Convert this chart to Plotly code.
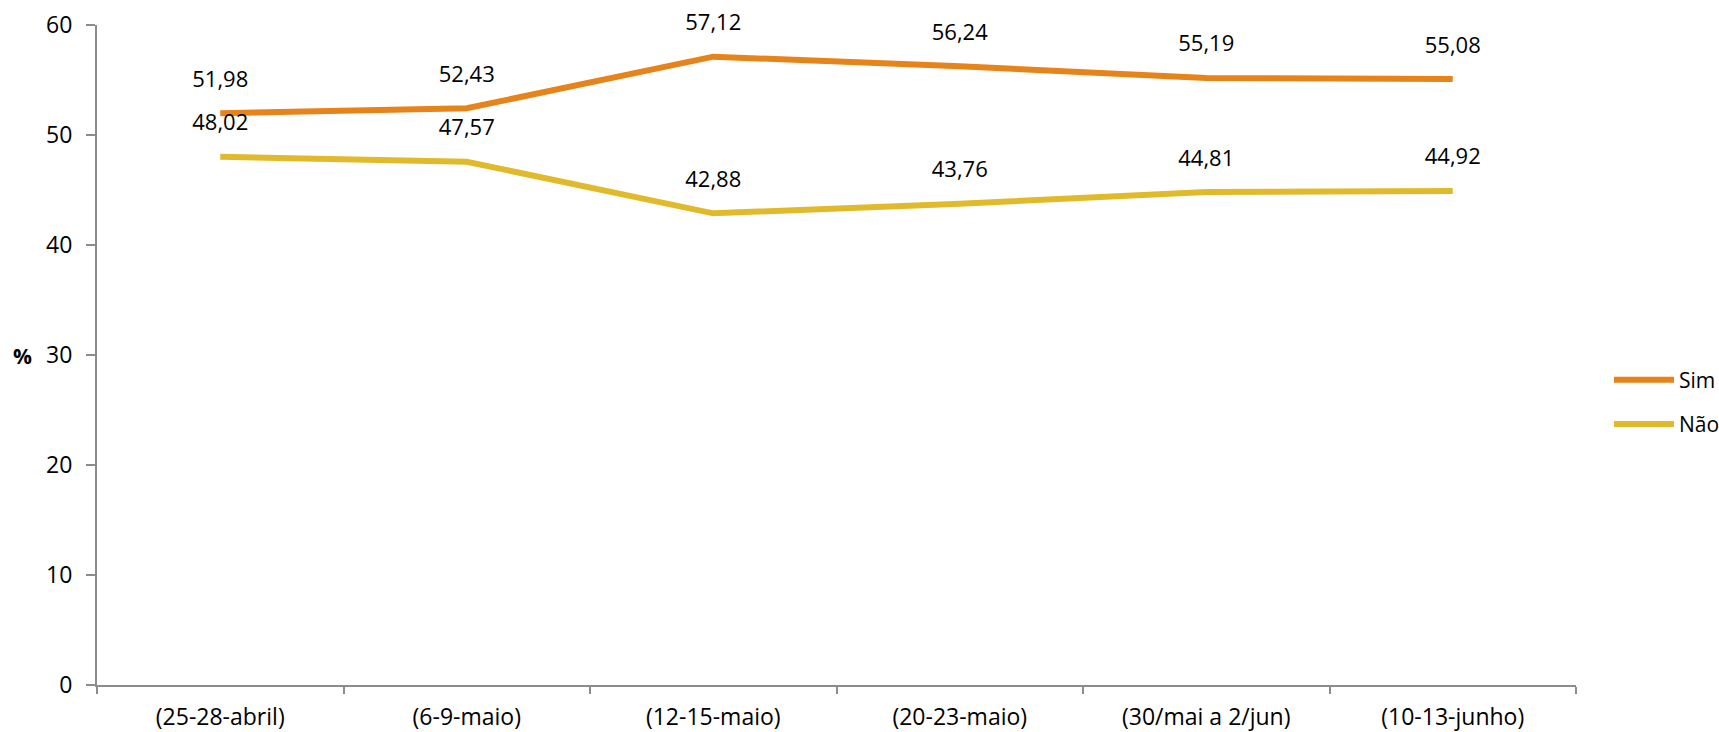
import plotly.graph_objects as go

categories = ["(25-28-abril)", "(6-9-maio)", "(12-15-maio)", "(20-23-maio)", "(30/mai a 2/jun)", "(10-13-junho)"]
sim = [51.98, 52.43, 57.12, 56.24, 55.19, 55.08]
nao = [48.02, 47.57, 42.88, 43.76, 44.81, 44.92]
y_ticks = [0, 10, 20, 30, 40, 50, 60]

FONT = "Open Sans"
AXIS = "#8c8c8c"
FS = 23

fig = go.Figure()
for name, vals, color in [("Sim", sim, "#E6831A"), ("Não", nao, "#E1BA2C")]:
    fig.add_trace(go.Scatter(
        x=categories, y=vals, name=name, legendgroup=name,
        mode="lines", line=dict(color=color, width=6),
        hoverinfo="skip",
    ))
for name, vals in [("Sim", sim), ("Não", nao)]:
    fig.add_trace(go.Scatter(
        x=categories, y=vals, name=name + " labels", showlegend=False,
        mode="markers+text",
        marker=dict(size=32, opacity=0),
        texttemplate="%{y:.2f}", textposition="top center",
        textfont=dict(family=FONT, size=22, color="black"),
        cliponaxis=False, hoverinfo="skip",
    ))

fig.update_layout(
    width=1719, height=732,
    margin=dict(l=97, r=143, t=25, b=47, autoexpand=False),
    paper_bgcolor="white", plot_bgcolor="white",
    separators=",.",
    font=dict(family=FONT, size=FS, color="black"),
    showlegend=True,
    legend=dict(x=1.0223, y=(685 - 402) / 660, xanchor="left", yanchor="middle",
                font=dict(family=FONT, size=21, color="black"),
                tracegroupgap=14, itemwidth=60, bgcolor="rgba(0,0,0,0)"),
    xaxis=dict(type="category", range=[-0.5, 5.5], showgrid=False, zeroline=False,
               showline=True, linecolor=AXIS, linewidth=2, automargin=False,
               ticks="outside", tickson="boundaries", ticklen=7, tickcolor=AXIS, tickwidth=2,
               ticklabelstandoff=10, tickfont=dict(family=FONT, size=FS, color="black")),
    yaxis=dict(range=[0, 60], tickvals=y_ticks, showgrid=False, zeroline=False,
               showline=True, linecolor=AXIS, linewidth=2, automargin=False,
               ticks="outside", ticklen=9, tickcolor=AXIS, tickwidth=2,
               ticklabelstandoff=9, tickfont=dict(family=FONT, size=FS, color="black")),
    annotations=[dict(text="<b>%</b>", xref="paper", yref="paper", x=(22 - 97) / 1479,
                      y=(685 - 356) / 660,
                      xanchor="center", yanchor="middle", showarrow=False,
                      font=dict(family=FONT, size=21, color="black"))],
)

fig.write_html("out.html", config={"displayModeBar": False},
               post_script="document.body.style.margin='0px';document.body.style.overflow='hidden';")
